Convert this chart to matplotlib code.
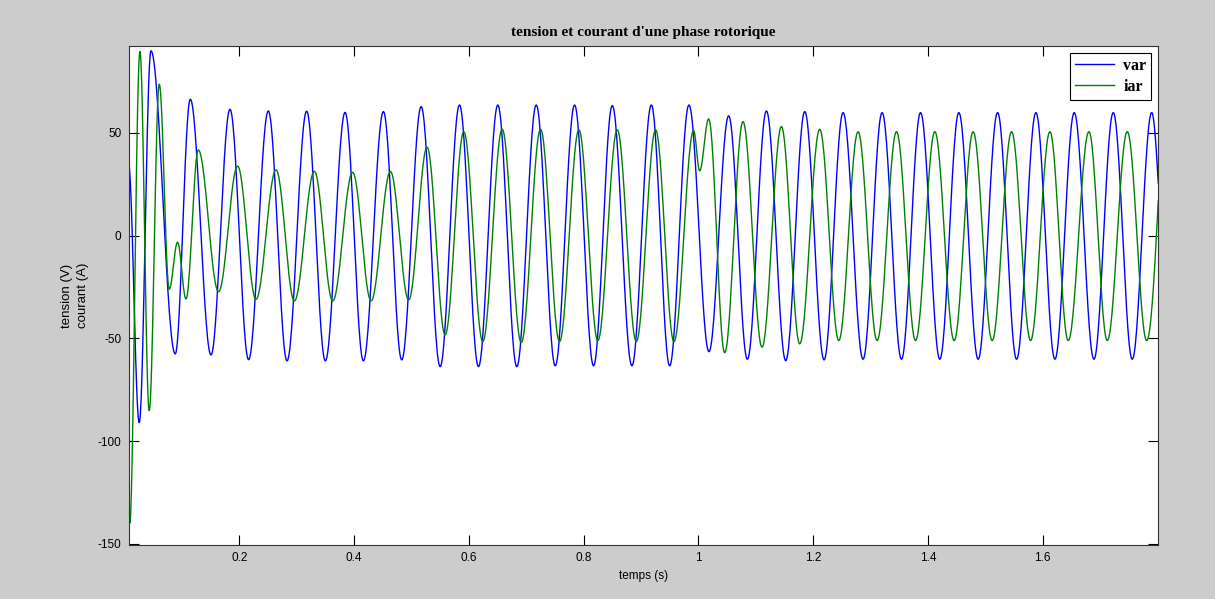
import numpy as np
import matplotlib
matplotlib.use("Agg")
import matplotlib.pyplot as plt

plt.rcParams["axes.unicode_minus"] = False

# ---- data: extrema (time in s, value) ----
var_t = [0.0066, 0.0253, 0.0457, 0.0881, 0.1143, 0.1504, 0.1835, 0.2159, 0.2503, 0.2829,
         0.3171, 0.3497, 0.3841, 0.4160, 0.4509, 0.4828, 0.5167, 0.5498, 0.5835, 0.6166,
         0.6503, 0.6834, 0.7173, 0.7504, 0.7841, 0.8172, 0.8498, 0.8840, 0.9179, 0.9498,
         0.9834, 1.0183, 1.0527, 1.0853, 1.1185, 1.1521, 1.1853, 1.2189, 1.2521, 1.2869,
         1.3201, 1.3539, 1.3871, 1.4207, 1.4539, 1.4875, 1.5214, 1.5545, 1.5882, 1.6213,
         1.6550, 1.6893, 1.7230, 1.7561, 1.7900, 1.8015]
var_v = [35, -91, 90, -57.6, 66.4, -58.1, 61.5, -60.4, 60.7, -61,
         60.6, -61, 60, -61, 60.4, -60.5, 62.8, -63.8, 63.6, -63.8,
         63.6, -63.8, 63.6, -63.4, 63.6, -63.4, 63.3, -63.4, 63.6, -63.4,
         63.6, -56.5, 58.3, -60.2, 60.7, -60.9, 60.4, -60.5, 59.9, -60.2,
         59.9, -60.2, 59.9, -60.2, 59.9, -60.2, 59.9, -60.2, 59.9, -60.2,
         59.9, -60.2, 59.9, -60.2, 59.9, 25.6]

iar_t = [0.0066, 0.0087, 0.0265, 0.0427, 0.0602, 0.0776, 0.0921, 0.1068, 0.1282, 0.1636,
         0.1968, 0.2288, 0.2637, 0.2957, 0.3305, 0.3625, 0.3973, 0.4294, 0.4631, 0.4950,
         0.5271, 0.5585, 0.5910, 0.6241, 0.6579, 0.6911, 0.7248, 0.7579, 0.7916, 0.8247,
         0.8585, 0.8917, 0.9253, 0.9573, 0.9916, 1.0021, 1.0178, 1.0457, 1.0776, 1.1108,
         1.1446, 1.1765, 1.2114, 1.2446, 1.2782, 1.3114, 1.3452, 1.3784, 1.4120, 1.4457,
         1.4788, 1.5120, 1.5458, 1.5789, 1.6126, 1.6445, 1.6806, 1.7126, 1.7474, 1.7813,
         1.8015]
iar_v = [-126, -140, 89.6, -85.2, 73.7, -26.1, -3.2, -30.8, 41.7, -27.3,
         33.8, -31, 32, -31.8, 31.3, -31.8, 30.8, -31.8, 31.2, -31.3,
         43, -48.3, 50.6, -51.6, 51.8, -52.1, 51.8, -51.6, 51.5, -51.1,
         51.5, -51.6, 51.5, -51.6, 51.1, 31.6, 56.8, -57, 55.5, -54.3,
         53.1, -52.7, 51.8, -51.1, 50.6, -51.1, 50.6, -51.1, 50.6, -51.1,
         50.6, -51.1, 50.6, -51.1, 50.6, -51.1, 50.6, -51.1, 50.6, -51.1,
         17]

x_ticks = [0.2, 0.4, 0.6, 0.8, 1.0, 1.2, 1.4, 1.6]
x_ticklabels = ["0.2", "0.4", "0.6", "0.8", "1", "1.2", "1.4", "1.6"]
y_ticks = [-150, -100, -50, 0, 50]


def smooth_through_extrema(tk, vk, n=30):
    """Draw a smooth curve through successive extrema (half-cosine segments)."""
    tk = np.asarray(tk, float)
    vk = np.asarray(vk, float)
    ts, vs = [], []
    last = len(tk) - 2
    for i in range(len(tk) - 1):
        if i == last:
            s = np.linspace(0, 1, n)
            shape = 1 - np.cos(np.pi / 2 * s)
        else:
            s = np.linspace(0, 1, n, endpoint=False)
            shape = (1 - np.cos(np.pi * s)) / 2
        ts.append(tk[i] + (tk[i + 1] - tk[i]) * s)
        vs.append(vk[i] + (vk[i + 1] - vk[i]) * shape)
    return np.concatenate(ts), np.concatenate(vs)


W, H = 1215, 599
fig = plt.figure(figsize=(W / 100, H / 100), dpi=100, facecolor="#cccccc")
ax = fig.add_axes([128.5 / W, 1 - 545 / H, (1158.3 - 128.5) / W, (545 - 46) / H])
ax.set_facecolor("white")

tv, vv = smooth_through_extrema(var_t, var_v)
ti, vi = smooth_through_extrema(iar_t, iar_v)
ax.plot(tv, vv, color=(0, 0, 1), lw=1.0, label="var")
ax.plot(ti, vi, color=(0, 0.5, 0), lw=1.0, label="iar")

ax.set_xlim(0.0066, 1.8015)
ax.set_ylim(-150.6, 92.3)
ax.set_xticks(x_ticks)
ax.set_xticklabels(x_ticklabels)
ax.set_yticks(y_ticks)

tickfont = dict(family="Liberation Sans", size=8.5)
for lab in ax.get_xticklabels() + ax.get_yticklabels():
    lab.set_fontfamily("Liberation Sans")
    lab.set_fontsize(8.5)
ax.tick_params(direction="in", length=7, width=0.8, top=True, right=True,
               colors="black", pad=5)
for sp in ax.spines.values():
    sp.set_linewidth(0.8)
    sp.set_color("#333333")

ax.set_title("tension et courant d'une phase rotorique", family="Liberation Serif",
             fontweight="bold", fontsize=11, pad=7)
ax.set_xlabel("temps (s)", **tickfont, labelpad=4)
ax.set_ylabel("tension (V)\ncourant (A)", family="Liberation Sans", size=9.5,
              labelpad=6, linespacing=1.45)

leg = ax.legend(loc="upper right", prop=dict(family="Liberation Serif", weight="bold", size=11.5),
                frameon=True, fancybox=False, edgecolor="black", framealpha=1,
                handlelength=2.4, borderaxespad=0.45, labelspacing=0.3,
                borderpad=0.3, handletextpad=0.6)
leg.get_frame().set_linewidth(0.8)

fig.savefig("out.png", dpi=100, facecolor=fig.get_facecolor())
